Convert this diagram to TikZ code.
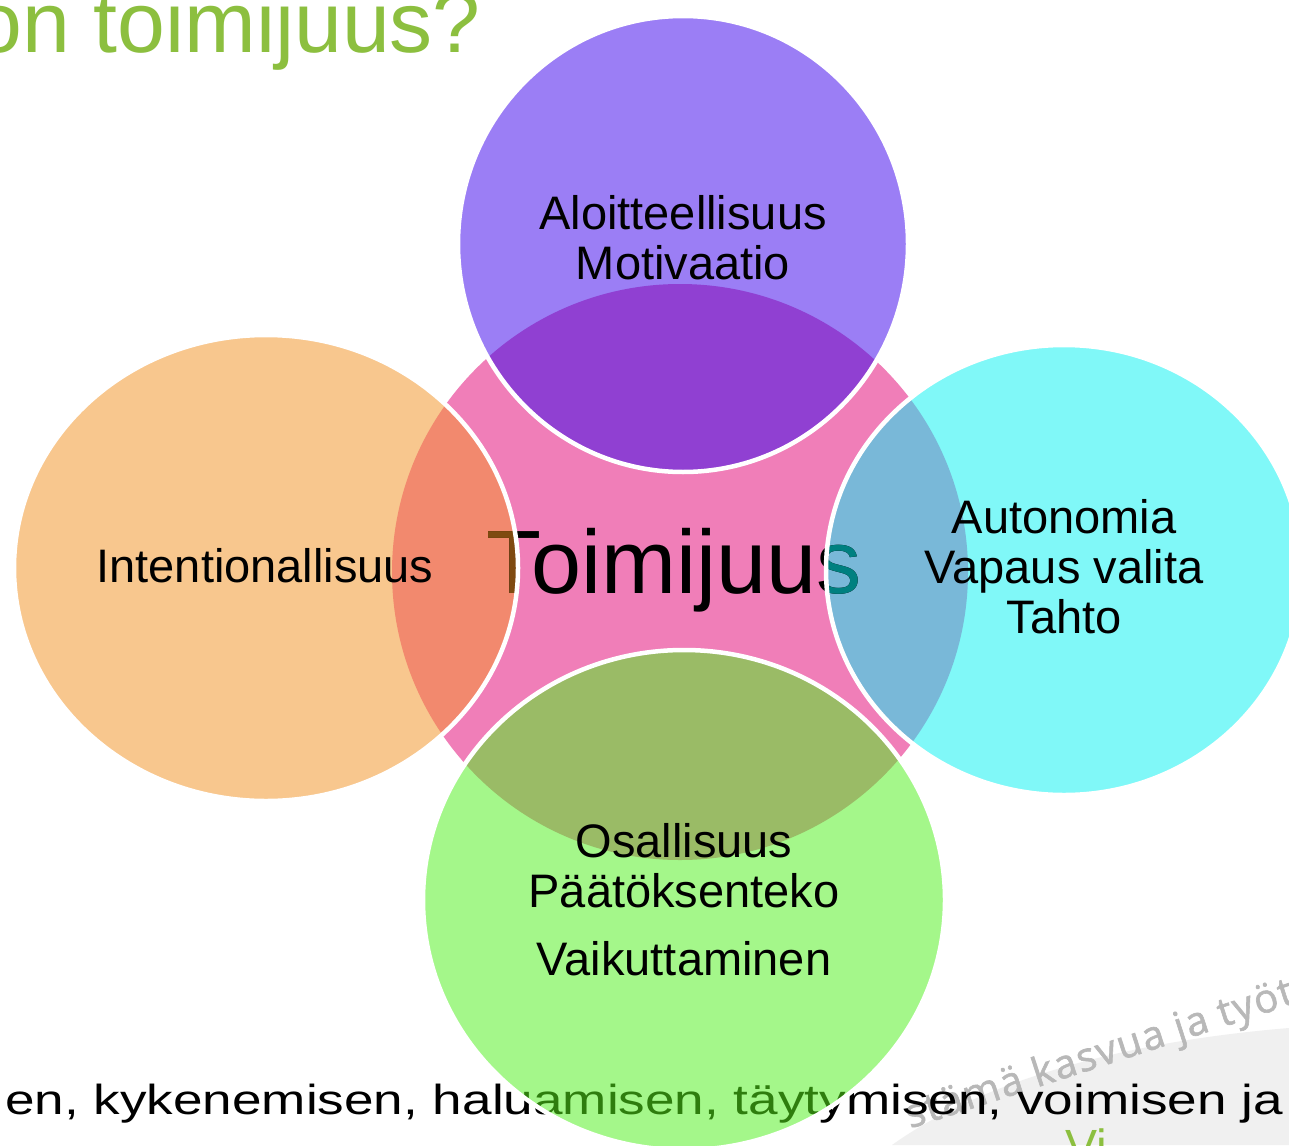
\documentclass[tikz,border=0pt]{standalone}
\usepackage{fontspec}
\setmainfont{Liberation Sans}
\newfontfamily\wmfont[LetterSpace=4,FakeBold=1.5]{Open Sans}

\definecolor{pinkc}{HTML}{F07EB8}
\definecolor{purplec}{HTML}{9B7EF5}
\definecolor{purpledk}{HTML}{9040D2}
\definecolor{orangec}{HTML}{F8C78E}
\definecolor{orangedk}{HTML}{F2896E}
\definecolor{cyanc}{HTML}{80F8F8}
\definecolor{cyandk}{HTML}{79B8D8}
\definecolor{greenc}{HTML}{A4F78A}
\definecolor{greendk}{HTML}{9ABB66}
\definecolor{titlegreen}{HTML}{8CBF3F}
\definecolor{tbrown}{HTML}{7F4A10}
\definecolor{tteal}{HTML}{008080}
\definecolor{textgreen}{HTML}{2E7D0E}
\definecolor{swoosh}{HTML}{F0F0F0}
\definecolor{wmgray}{HTML}{B8B8B8}

\begin{document}
\begin{tikzpicture}[x=1pt, y=-1pt,
    lbl/.style={font=\fontsize{47}{50}\selectfont, align=center, inner sep=0pt},
    core/.style={font=\fontsize{90}{90}\selectfont, anchor=base, inner sep=0pt},
    line/.style={font=\fontsize{42}{44}\selectfont, anchor=base west, inner sep=0pt},
    rim/.style={draw=white, line width=4.5pt}]
    \useasboundingbox (0,0) rectangle (1289,1145);
    \fill [white] (0,0) rectangle (1289,1145);

    % background of the slide
    \fill [swoosh] (892,1145) .. controls (980,1082) and (1120,1042) .. (1289,1028) -- (1289,1145) -- cycle;
    \node [rotate=18, text=wmgray, font=\wmfont\fontsize{40}{42}\selectfont, inner sep=0pt] (wmark) at (1100,1056) {stämä kasvua ja työt};

    \node [anchor=base west, text=titlegreen, font=\fontsize{86}{90}\selectfont, inner sep=0pt] (title) at (-26,53) {on toimijuus?};
    \node [line] (sentence) at (5,1114) {\scalebox{1.264}[1]{en, kykenemisen, haluamisen, täytymisen, voimisen ja}};
    \node [anchor=base west, text=titlegreen, font=\fontsize{48}{50}\selectfont, inner sep=0pt] (vi) at (1065,1163) {Vi};

    \coordinate (mid) at (680,572);
    \coordinate (up) at (683,244);
    \coordinate (lt) at (266,568);
    \coordinate (rt) at (1064,570);
    \coordinate (dn) at (684,900);

    % circles
    \fill [pinkc] (mid) circle [radius=288];
    \fill [purplec] (up) ellipse [x radius=225, y radius=228];
    \fill [orangec] (lt) ellipse [x radius=252, y radius=233];
    \fill [cyanc] (rt) ellipse [x radius=238, y radius=225];
    \fill [greenc] (dn) ellipse [x radius=261, y radius=250];

    \begin{scope}
        \clip (mid) circle [radius=288];
        \fill [purpledk] (up) ellipse [x radius=225, y radius=228];
        \fill [orangedk] (lt) ellipse [x radius=252, y radius=233];
        \fill [cyandk] (rt) ellipse [x radius=238, y radius=225];
        \fill [greendk] (dn) ellipse [x radius=261, y radius=250];
    \end{scope}

    % centre word, tinted where the circles cover it
    \node [core] (toim) at (674,593) {Toimijuus};
    \begin{scope}
        \clip (lt) ellipse [x radius=252, y radius=233];
        \node [core, text=tbrown] (toim-l) at (674,593) {Toimijuus};
    \end{scope}
    \begin{scope}
        \clip (rt) ellipse [x radius=238, y radius=225];
        \node [core, text=tteal] (toim-r) at (674,593) {Toimijuus};
    \end{scope}
    \begin{scope}
        \clip (dn) ellipse [x radius=261, y radius=250];
        \node [line, text=textgreen] (sentence-g) at (5,1114) {\scalebox{1.264}[1]{en, kykenemisen, haluamisen, täytymisen, voimisen ja}};
    \end{scope}

    \draw [rim] (up) ellipse [x radius=225, y radius=228];
    \draw [rim] (lt) ellipse [x radius=252, y radius=233];
    \draw [rim] (rt) ellipse [x radius=238, y radius=225];
    \draw [rim] (dn) ellipse [x radius=261, y radius=250];

    % labels
    \node [lbl] (aloite) at (683,238) {Aloitteellisuus\\Motivaatio};
    \node [lbl] (intent) at (265,566) {Intentionallisuus};
    \node [lbl] (auton) at (1064,567) {Autonomia\\Vapaus valita\\Tahto};
    \node [lbl] (osall) at (684,900) {Osallisuus\\Päätöksenteko\\[18pt]Vaikuttaminen};
\end{tikzpicture}
\end{document}
